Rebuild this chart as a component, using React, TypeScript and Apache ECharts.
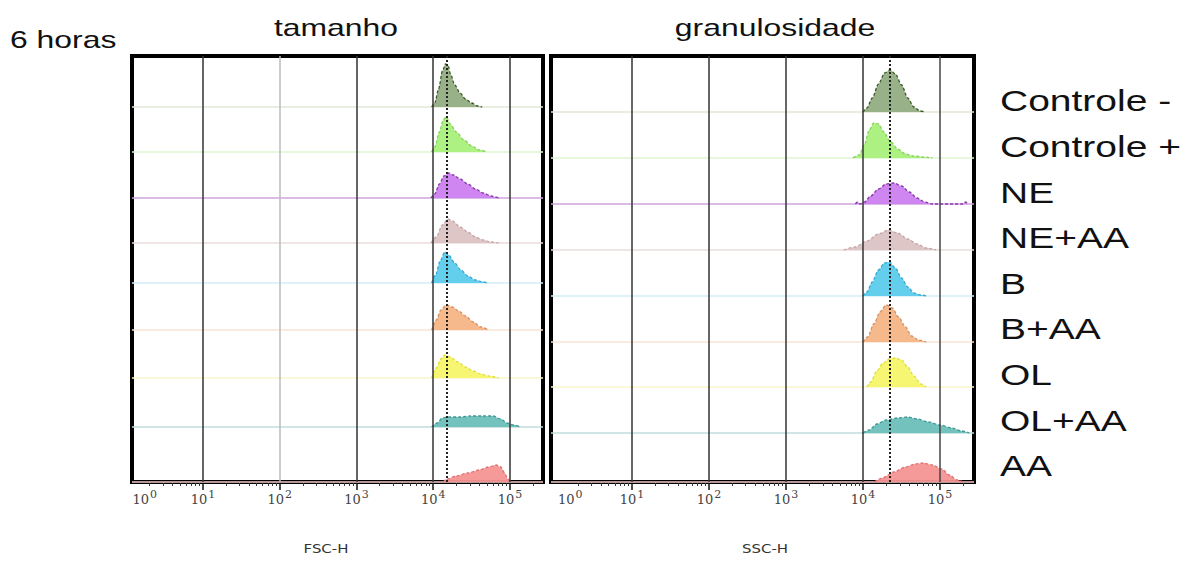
import React, { useEffect, useRef } from "react";
import * as echarts from "echarts";

// ---------- data ----------
const SAMPLES = ["Controle -", "Controle +", "NE", "NE+AA", "B", "B+AA", "OL", "OL+AA", "AA"];
const DECADES = [1, 2, 3, 4, 5];
const LABEL_EXPONENTS = [0, 1, 2, 3, 4, 5];

// FSC-H (tamanho): [log10 FSC-H, relative count]
const FSC_CTRL_NEG = [[3.98, 0], [4.02, 4], [4.07, 18], [4.12, 36], [4.16, 43], [4.19, 42], [4.23, 32], [4.28, 22], [4.35, 14], [4.42, 8], [4.5, 4], [4.58, 1], [4.64, 0]];
const FSC_CTRL_POS = [[3.98, 0], [4.02, 5], [4.08, 20], [4.13, 32], [4.17, 35], [4.22, 28], [4.3, 20], [4.4, 12], [4.5, 6], [4.6, 2], [4.7, 0]];
const FSC_NE = [[3.97, 0], [4.02, 4], [4.08, 14], [4.14, 22], [4.2, 25], [4.26, 23], [4.35, 19], [4.45, 14], [4.55, 9], [4.65, 5], [4.75, 2], [4.85, 0]];
const FSC_NE_AA = [[3.97, 0], [4.04, 6], [4.12, 18], [4.19, 24], [4.25, 22], [4.35, 16], [4.45, 11], [4.55, 6], [4.65, 3], [4.75, 1], [4.85, 0]];
const FSC_B = [[3.98, 0], [4.03, 8], [4.09, 22], [4.15, 31], [4.2, 28], [4.28, 20], [4.36, 13], [4.45, 7], [4.55, 3], [4.65, 1], [4.72, 0]];
const FSC_B_AA = [[3.98, 0], [4.04, 10], [4.1, 20], [4.17, 25], [4.25, 23], [4.33, 19], [4.42, 14], [4.52, 8], [4.62, 3], [4.72, 0]];
const FSC_OL = [[3.98, 0], [4.04, 10], [4.1, 19], [4.15, 23], [4.22, 21], [4.32, 16], [4.42, 11], [4.52, 7], [4.62, 4], [4.72, 2], [4.85, 0]];
const FSC_OL_AA = [[3.98, 0], [4.05, 4], [4.12, 9], [4.2, 10], [4.35, 10], [4.5, 11], [4.65, 11], [4.78, 11], [4.88, 8], [4.96, 4], [5.05, 2], [5.14, 0]];
const FSC_AA = [[4.13, 0], [4.18, 3], [4.3, 6], [4.45, 9], [4.6, 12], [4.72, 15], [4.82, 17], [4.88, 15], [4.93, 9], [4.97, 3], [5.0, 0]];

// SSC-H (granulosidade): [log10 SSC-H, relative count]
const SSC_CTRL_NEG = [[4.0, 0], [4.05, 4], [4.12, 14], [4.2, 28], [4.28, 39], [4.35, 42], [4.42, 38], [4.5, 27], [4.58, 14], [4.66, 5], [4.74, 1], [4.8, 0]];
const SSC_CTRL_POS = [[3.87, 0], [3.95, 3], [4.02, 14], [4.08, 28], [4.14, 35], [4.2, 34], [4.27, 26], [4.35, 17], [4.45, 9], [4.55, 4], [4.65, 2], [4.78, 1], [4.9, 0]];
const SSC_NE = [[3.9, 0], [3.93, 2], [3.96, 0], [4.02, 2], [4.1, 8], [4.2, 15], [4.3, 20], [4.4, 21], [4.5, 18], [4.6, 12], [4.7, 6], [4.8, 2], [4.9, 0], [5.3, 0], [5.33, 2], [5.36, 0]];
const SSC_NE_AA = [[3.75, 0], [3.9, 3], [4.05, 9], [4.2, 16], [4.33, 20], [4.45, 17], [4.58, 11], [4.7, 6], [4.82, 2], [4.95, 0]];
const SSC_B = [[4.0, 0], [4.05, 4], [4.12, 14], [4.2, 26], [4.28, 33], [4.34, 34], [4.42, 28], [4.5, 18], [4.58, 9], [4.66, 3], [4.75, 1], [4.82, 0]];
const SSC_B_AA = [[4.0, 0], [4.06, 5], [4.14, 18], [4.22, 30], [4.3, 37], [4.38, 34], [4.46, 25], [4.55, 15], [4.63, 6], [4.72, 2], [4.82, 0]];
const SSC_OL = [[4.05, 0], [4.1, 5], [4.18, 16], [4.26, 24], [4.34, 28], [4.42, 29], [4.5, 27], [4.58, 20], [4.66, 11], [4.75, 3], [4.82, 0]];
const SSC_OL_AA = [[4.0, 0], [4.08, 3], [4.18, 9], [4.3, 13], [4.45, 15], [4.58, 16], [4.7, 14], [4.85, 11], [5.0, 8], [5.15, 5], [5.28, 2], [5.38, 0]];
const SSC_AA = [[4.15, 0], [4.25, 4], [4.4, 10], [4.55, 15], [4.68, 18], [4.78, 19], [4.9, 17], [5.02, 13], [5.12, 7], [5.22, 2], [5.3, 0]];

const FSC_HISTS = [FSC_CTRL_NEG, FSC_CTRL_POS, FSC_NE, FSC_NE_AA, FSC_B, FSC_B_AA, FSC_OL, FSC_OL_AA, FSC_AA];
const SSC_HISTS = [SSC_CTRL_NEG, SSC_CTRL_POS, SSC_NE, SSC_NE_AA, SSC_B, SSC_B_AA, SSC_OL, SSC_OL_AA, SSC_AA];

// reference (dotted) marker positions, log10 units
const FSC_REF = 4.18;
const SSC_REF = 4.35;

// ---------- styles / layout ----------
const FILL = ["#94ad82", "#aaf07c", "#cc80f0", "#dcc3c3", "#5ccbec", "#f5b585", "#f5f56a", "#6cbfbb", "#f59494"];
const EDGE = ["#3d5a2a", "#86d25c", "#8a3aa8", "#c4a4a4", "#35a8d0", "#d89060", "#dede3a", "#409895", "#e07070"];
const BASE = ["#e2e8d8", "#dff5cf", "#cfa3e0", "#eadcdc", "#d3eef7", "#f7e4d5", "#f8f6c8", "#bfdedc", "#f5c8c8"];
const FSC_ROW_BASE = [375, 330, 284, 239, 199, 152, 104, 55, 0];
const SSC_ROW_BASE = [370, 324, 278, 232, 186, 140, 95, 49, 0];
const FSC_GRIDLINE = ["#333", "#bbb", "#333", "#333", "#333"];
const SSC_GRIDLINE = ["#333", "#333", "#333", "#333", "#444"];

const MINOR_TICKS: number[] = [];
for (let d = 0; d < 6; d++) for (let k = 2; k <= 9; k++) MINOR_TICKS.push(d + Math.log10(k));

function panel(idx: number, hists: number[][][], bases: number[], gridColors: string[], ref: number) {
  const xi = idx * 2;
  const series: any[] = [];
  series.push({
    type: "line",
    xAxisIndex: xi,
    yAxisIndex: idx,
    data: [],
    silent: true,
    z: 1,
    markLine: {
      silent: true,
      symbol: ["none", "none"],
      label: { show: false },
      data: DECADES.map((d, i) => ({ xAxis: d, lineStyle: { color: gridColors[i], width: 1.5, type: "solid" } })),
    },
  });
  hists.forEach((h, i) => {
    series.push({
      type: "line",
      name: SAMPLES[i],
      xAxisIndex: xi,
      yAxisIndex: idx,
      data: h.map(([x, c]) => [x, bases[i] + c]),
      smooth: 0.3,
      smoothMonotone: "x",
      showSymbol: false,
      symbol: "none",
      clip: false,
      z: 3,
      lineStyle: { color: EDGE[i], width: 1.3, type: [3, 2] },
      areaStyle: { color: FILL[i], opacity: 0.95, origin: bases[i] },
      markLine: {
        silent: true,
        symbol: ["none", "none"],
        label: { show: false },
        z: 2,
        data: [{ yAxis: bases[i], lineStyle: { color: BASE[i], width: 1.5, type: "solid" } }],
      },
    });
  });
  series.push({
    type: "line",
    xAxisIndex: xi,
    yAxisIndex: idx,
    data: [],
    silent: true,
    z: 6,
    markLine: {
      silent: true,
      symbol: ["none", "none"],
      label: { show: false },
      data: [{ xAxis: ref, lineStyle: { color: "#222", width: 2, type: [2, 2] } }],
    },
  });
  return series;
}

function xAxes(idx: number, min: number, max: number, labelAt: number[]) {
  return [
    {
      gridIndex: idx,
      type: "value",
      position: "bottom",
      min,
      max,
      axisLine: { show: false },
      splitLine: { show: false },
      axisTick: { show: true, inside: false, length: 8, lineStyle: { color: "#111", width: 1.5 }, customValues: DECADES },
      axisLabel: {
        show: true,
        margin: 7,
        customValues: labelAt,
        formatter: (v: number) => `{b|10}{s|${LABEL_EXPONENTS[Math.round(v)]}}`,
        rich: {
          b: { fontFamily: "DejaVu Serif", fontSize: 13, color: "#444" },
          s: { fontFamily: "DejaVu Serif", fontSize: 11, color: "#444", verticalAlign: "bottom", padding: [0, 0, 10, 1] },
        },
      },
    },
    {
      gridIndex: idx,
      type: "value",
      position: "bottom",
      min,
      max,
      axisLine: { show: false },
      splitLine: { show: false },
      axisLabel: { show: false },
      axisTick: {
        show: true,
        length: 4,
        lineStyle: { color: "#333", width: 1 },
        customValues: MINOR_TICKS.filter((t) => t > min && t < max),
      },
    },
  ];
}

const TXT = "'Liberation Sans', Arial, sans-serif";

export default function App() {
  const ref = useRef<HTMLDivElement>(null);
  useEffect(() => {
    if (!ref.current) return;
    const chart = echarts.init(ref.current, undefined, { renderer: "svg" });
    const yAxis = (i: number) => ({ gridIndex: i, type: "value", min: 0, max: 426, show: false });
    const labelGraphics = SAMPLES.map((s, i) => ({
      type: "text",
      x: 1000,
      y: 101 + i * 45.6,
      scaleX: 1.3,
      style: { text: s, font: `30px ${TXT}`, fill: "#111", textAlign: "left", textVerticalAlign: "middle" },
    }));
    chart.setOption({
      animation: false,
      backgroundColor: "#fff",
      grid: [
        { left: 132, top: 56, width: 411, height: 426, show: true, borderColor: "#000", borderWidth: 4, backgroundColor: "#fff" },
        { left: 551, top: 56, width: 423, height: 426, show: true, borderColor: "#000", borderWidth: 4, backgroundColor: "#fff" },
      ],
      xAxis: [...xAxes(0, 0.075, 5.43, [0.24, 1, 2, 3, 4, 5]), ...xAxes(1, -0.05, 5.44, [0.2, 1, 2, 3, 4, 5])],
      yAxis: [yAxis(0), yAxis(1)],
      series: [
        ...panel(0, FSC_HISTS, FSC_ROW_BASE, FSC_GRIDLINE, FSC_REF),
        ...panel(1, SSC_HISTS, SSC_ROW_BASE, SSC_GRIDLINE, SSC_REF),
      ],
      graphic: [
        { type: "text", x: 10, y: 40, scaleX: 1.33, style: { text: "6 horas", font: `24px ${TXT}`, fill: "#111", textAlign: "left", textVerticalAlign: "middle" } },
        { type: "text", x: 336, y: 28, scaleX: 1.33, style: { text: "tamanho", font: `24px ${TXT}`, fill: "#111", textAlign: "center", textVerticalAlign: "middle" } },
        { type: "text", x: 775, y: 28, scaleX: 1.33, style: { text: "granulosidade", font: `24px ${TXT}`, fill: "#111", textAlign: "center", textVerticalAlign: "middle" } },
        { type: "text", x: 326, y: 548, scaleX: 1.15, style: { text: "FSC-H", font: "13px 'DejaVu Sans', sans-serif", fill: "#333", textAlign: "center", textVerticalAlign: "middle" } },
        { type: "text", x: 765, y: 548, scaleX: 1.15, style: { text: "SSC-H", font: "13px 'DejaVu Sans', sans-serif", fill: "#333", textAlign: "center", textVerticalAlign: "middle" } },
        ...labelGraphics,
      ],
    });
    return () => chart.dispose();
  }, []);
  return <div ref={ref} style={{ position: "fixed", left: 0, top: 0, width: 1198, height: 562 }} />;
}
